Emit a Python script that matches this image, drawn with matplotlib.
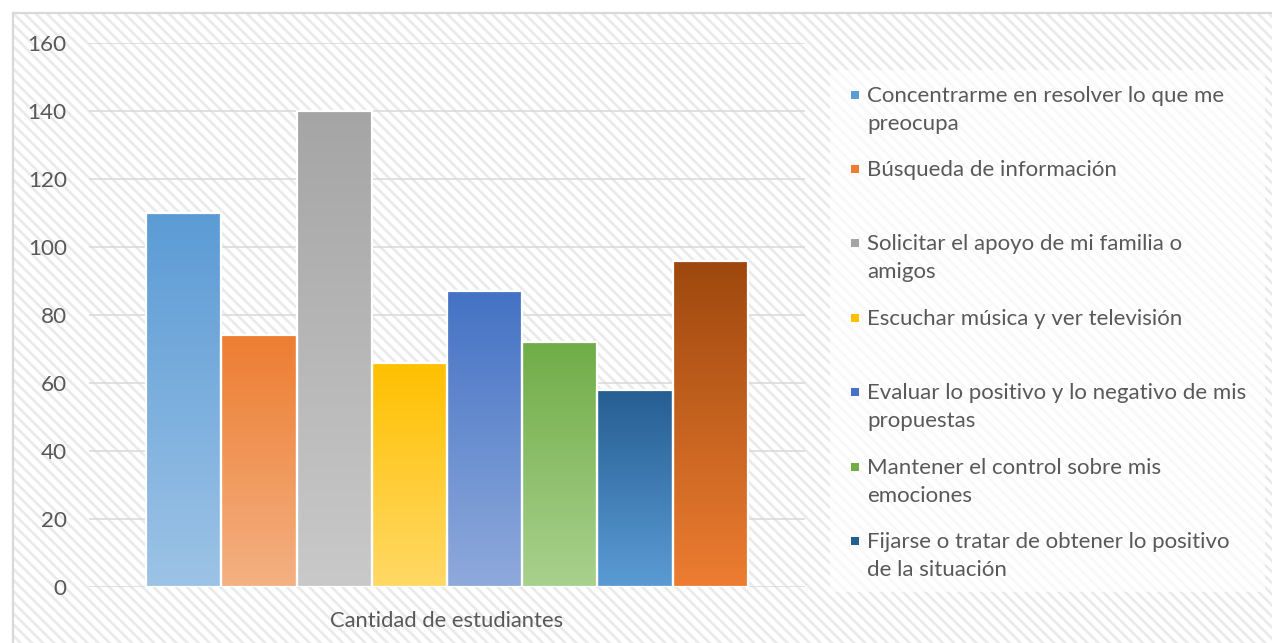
import numpy as np
import matplotlib
matplotlib.use("Agg")
import matplotlib.pyplot as plt
from matplotlib.patches import Rectangle
from matplotlib.lines import Line2D
from matplotlib.colors import to_rgb

# ---------------- data ----------------
categories = [
    "Concentrarme en resolver lo que me\npreocupa",
    "Búsqueda de información",
    "Solicitar el apoyo de mi familia o\namigos",
    "Escuchar música y ver televisión",
    "Evaluar lo positivo y lo negativo de mis\npropuestas",
    "Mantener el control sobre mis\nemociones",
    "Fijarse o tratar de obtener lo positivo\nde la situación",
    "Otra",
]
values = [110, 74, 140, 66, 87, 72, 58, 96]
top_colors = ["#5B9BD5", "#ED7D31", "#A5A5A5", "#FFC000", "#4472C4", "#70AD47", "#255E91", "#9E480E"]
bottom_colors = ["#9DC3E6", "#F4B183", "#C9C9C9", "#FFD966", "#8FAADC", "#A9D18E", "#5B9BD5", "#ED7D31"]
legend_shown = 7
yticks = [0, 20, 40, 60, 80, 100, 120, 140, 160]
xlabel = "Cantidad de estudiantes"

# ---------------- figure ----------------
W, H = 1272, 643
DPI = 100
plt.rcParams['font.family'] = ['Lato', 'DejaVu Sans']
plt.rcParams['hatch.linewidth'] = 1.9
fig = plt.figure(figsize=(W / DPI, H / DPI), dpi=DPI)
fig.patch.set_facecolor("white")

def fx(px):
    return px / W

def fy(py):
    return 1 - py / H

TEXT = "#595959"

# chart area hatched background + frame
bg = Rectangle((fx(14), 0), 1 - fx(14), fy(14), transform=fig.transFigure,
               facecolor="white", edgecolor="#EAEAEA", hatch="\\\\\\", linewidth=0, zorder=-2)
fig.patches.append(bg)
fig.add_artist(Line2D([fx(13), fx(13)], [0, fy(13)], transform=fig.transFigure, color="#D9D9D9", lw=1.6, zorder=-1))
fig.add_artist(Line2D([fx(13), 1], [fy(13), fy(13)], transform=fig.transFigure, color="#D9D9D9", lw=1.6, zorder=-1))

# legend background box
fig.patches.append(Rectangle((fx(830), fy(592)), fx(1265 - 830), (592 - 70) / H,
                             transform=fig.transFigure, facecolor="white", alpha=0.7,
                             edgecolor="none", zorder=-1))

# axes
ax = fig.add_axes([fx(89), fy(587), fx(805 - 89), (587 - 43) / H])
ax.patch.set_alpha(0)
for s in ax.spines.values():
    s.set_visible(False)
ax.set_ylim(0, 160)
ax.set_xlim(-0.5, 0.5)
ax.set_yticks(yticks)
ax.yaxis.grid(True, color="#D9D9D9", lw=1.1, zorder=0)
ax.set_axisbelow(True)
ax.tick_params(axis="y", length=0, pad=16, labelsize=16.2, labelcolor=TEXT)
ax.set_xticks([])

n = len(values)
group = 0.84
bw = group / n
xs = [(i - (n - 1) / 2) * bw for i in range(n)]
bars = ax.bar(xs, values, width=bw, facecolor="none", edgecolor="white", linewidth=1.6, zorder=3)
for b, v, ct, cb in zip(bars, values, top_colors, bottom_colors):
    c0 = np.array(to_rgb(cb))
    c1 = np.array(to_rgb(ct))
    t = np.linspace(0, 1, 256)[:, None, None]
    grad = c0 * (1 - t) + c1 * t
    x0 = b.get_x()
    im = ax.imshow(grad, extent=[x0, x0 + b.get_width(), 0, v], origin="lower",
                   aspect="auto", zorder=2.5, interpolation="bilinear")
    im.set_clip_path(b)
ax.set_xlim(-0.5, 0.5)
ax.set_ylim(0, 160)

ax.set_xlabel(xlabel, fontsize=15.8, color=TEXT, labelpad=17)

# legend (first entries visible, as in the reference)
leg_size = 16.0
base0 = 101.5
step = 74.4
line_h = 28.0
for i in range(legend_shown):
    yb = base0 + step * i
    fig.patches.append(Rectangle((fx(851), fy(yb - 3)), fx(8), 8 / H, transform=fig.transFigure,
                                 facecolor=top_colors[i], edgecolor="none", zorder=4))
    for j, line in enumerate(categories[i].split("\n")):
        fig.text(fx(867), fy(yb + line_h * j), line, fontsize=leg_size, color=TEXT,
                 ha="left", va="baseline", zorder=5)

fig.savefig("out.png", dpi=DPI)
